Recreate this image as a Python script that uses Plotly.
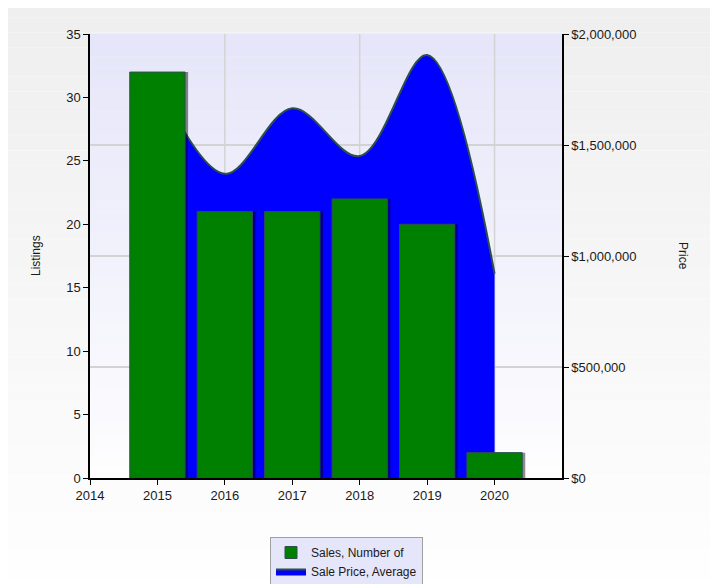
import plotly.graph_objects as go

years = [2015, 2016, 2017, 2018, 2019, 2020]
listings = [32, 21, 21, 22, 20, 2]
avg_price = [1790000, 1370000, 1665000, 1450000, 1905000, 920000]
x_ticks = [2014, 2015, 2016, 2017, 2018, 2019, 2020]
grid_years = [2016, 2018, 2020]

FONT = "Liberation Sans, Arial, sans-serif"
TXT = "#1a1a1a"

fig = go.Figure()

# soft shadow behind bars
fig.add_trace(go.Bar(
    x=years, y=listings, yaxis="y2", width=0.82, offset=-0.41 + 0.045,
    marker=dict(color="rgba(0,0,0,0.45)", line=dict(width=0)),
    showlegend=False, hoverinfo="skip",
))
fig.add_trace(go.Bar(
    x=years, y=listings, name="Sales, Number of", yaxis="y2",
    width=0.82, offset=-0.41,
    marker=dict(color="#008000", line=dict(color="#2F4F4F", width=1)),
))
fig.add_trace(go.Scatter(
    x=years, y=avg_price, name="Sale Price, Average", yaxis="y",
    mode="lines", line=dict(color="#2F4F4F", width=2, shape="spline", smoothing=1.0),
    fill="tozeroy", fillcolor="#0000FF",
))

shapes = []
n = 40
# paper gradient
y_lo, y_hi = -0.26, 1.07
for i in range(n):
    t = i / (n - 1)
    c = int(239 + (255 - 239) * t)
    y1 = y_hi - (y_hi - y_lo) * i / n
    y0 = y_hi - (y_hi - y_lo) * (i + 1) / n
    shapes.append(dict(type="rect", xref="paper", yref="paper", x0=-0.2, x1=1.35,
                       y0=y0, y1=y1, fillcolor=f"rgb({c},{c},{c})",
                       line=dict(width=0), layer="below"))
# plot area gradient
for i in range(n):
    t = i / (n - 1)
    r = int(230 + (254 - 230) * t)
    b = int(250 + (255 - 250) * t)
    y1 = 1 - i / n
    y0 = 1 - (i + 1) / n
    shapes.append(dict(type="rect", xref="paper", yref="paper", x0=0, x1=1,
                       y0=y0, y1=y1, fillcolor=f"rgb({r},{r},{b})",
                       line=dict(width=0), layer="below"))
for gy in grid_years:
    shapes.append(dict(type="line", xref="x", yref="paper", x0=gy, x1=gy, y0=0, y1=1,
                       line=dict(color="#D3D3D3", width=1.5), layer="below"))

fig.update_layout(
    width=710, height=576,
    margin=dict(l=82, r=156, t=26, b=106),
    paper_bgcolor="white", plot_bgcolor="rgba(0,0,0,0)",
    font=dict(family=FONT, size=13, color=TXT),
    shapes=shapes,
    showlegend=True,
    barmode="overlay",
    xaxis=dict(range=[2014, 2021], tickvals=x_ticks, ticktext=[str(v) for v in x_ticks],
               showgrid=False, zeroline=False, showline=True, linecolor="black", linewidth=1.5,
               ticks="outside", ticklen=5, tickcolor="black",
               tickfont=dict(size=13, color=TXT)),
    yaxis=dict(range=[0, 2000000], dtick=500000, side="right", tickprefix="$", tickformat=",d",
               showgrid=True, gridcolor="#D3D3D3", gridwidth=1.5, zeroline=False,
               showline=True, linecolor="black", linewidth=1.5,
               ticks="outside", ticklen=5, tickcolor="black",
               tickfont=dict(size=13, color=TXT)),
    yaxis2=dict(range=[0, 35], dtick=5, side="left", overlaying="y",
                showgrid=False, zeroline=False, showline=True, linecolor="black", linewidth=1.5,
                ticks="outside", ticklen=5, tickcolor="black",
                tickfont=dict(size=13, color=TXT)),
    legend=dict(xref="paper", yref="container",
                x=(270 - 90) / 472, y=1 - (537 - 8) / 576, xanchor="left", yanchor="top",
                bgcolor="#E6E6FA", bordercolor="#A0A0A0", borderwidth=1,
                font=dict(size=12, color=TXT), tracegroupgap=0,
                itemwidth=30),
    annotations=[
        dict(text="Listings", xref="paper", yref="paper", x=-63/472, y=0.5,
             textangle=-90, showarrow=False, font=dict(size=12, color=TXT)),
        dict(text="Price", xref="paper", yref="paper", x=1 + 130/472, y=0.5,
             textangle=90, showarrow=False, font=dict(size=12, color=TXT)),
    ],
)

fig.write_html("out.html")
